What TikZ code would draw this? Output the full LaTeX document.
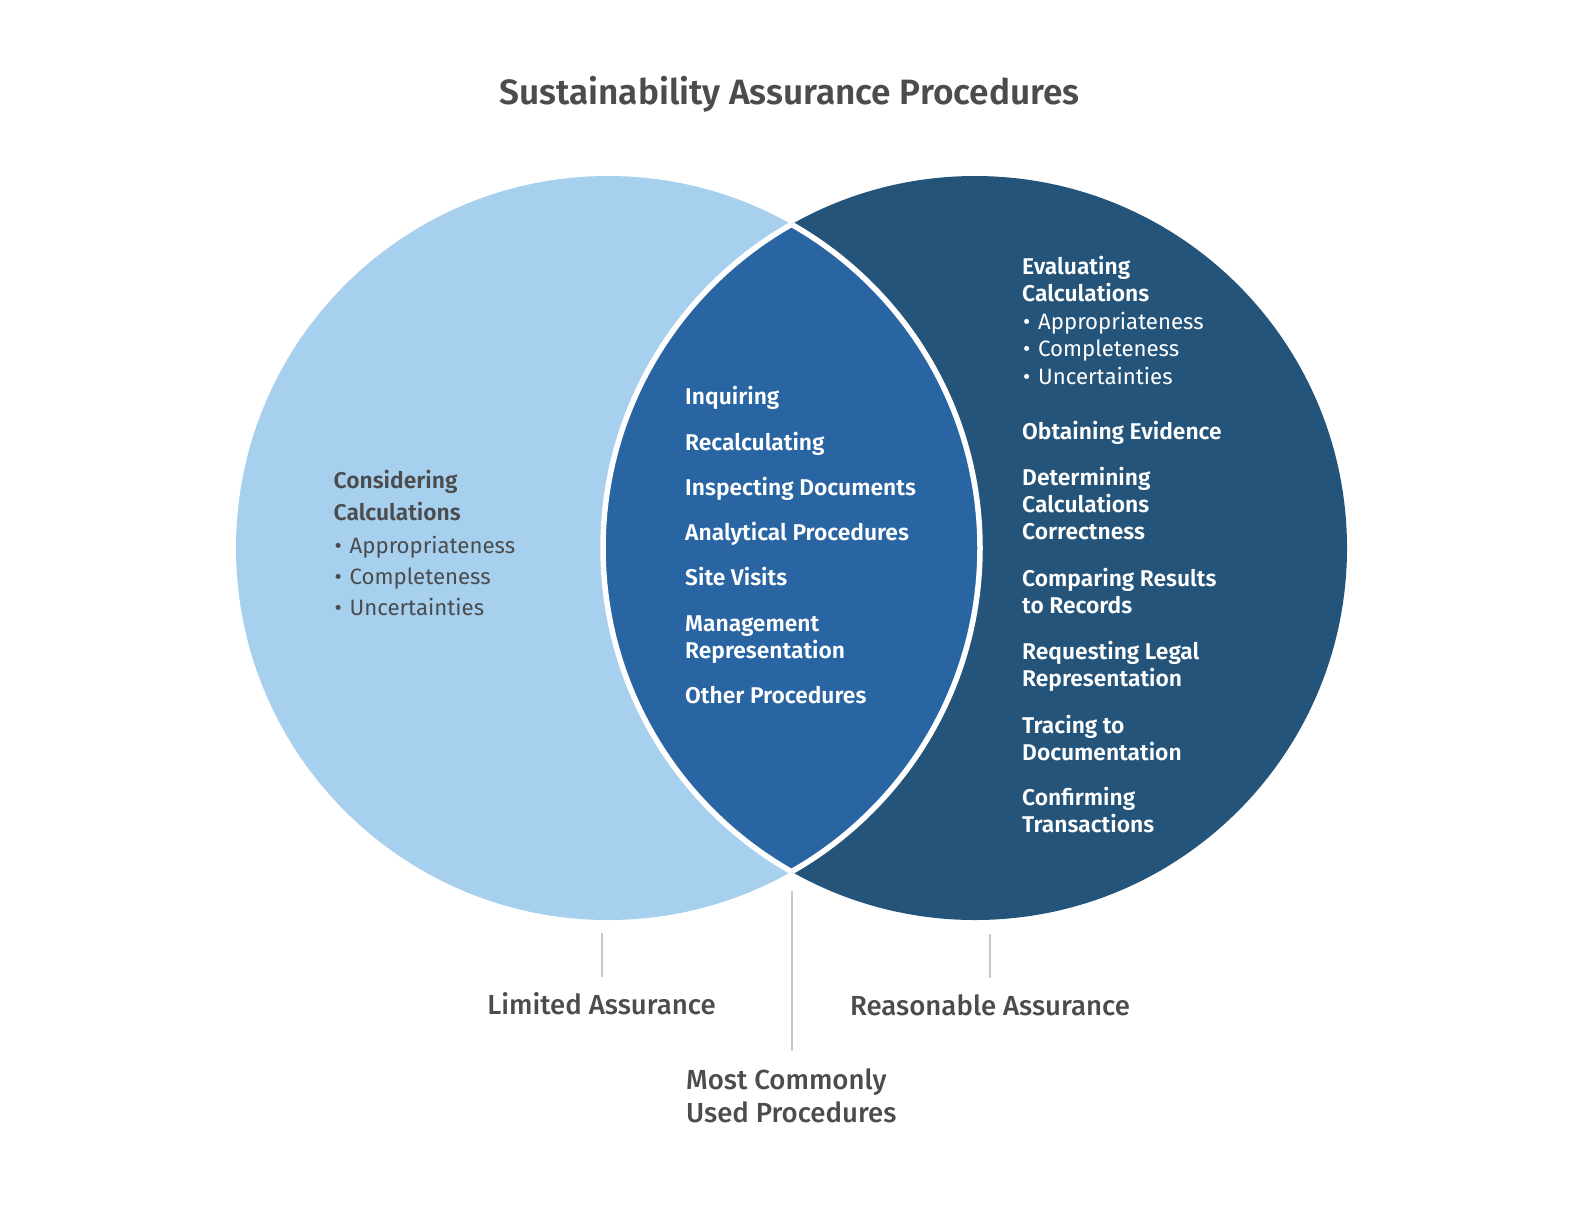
\documentclass[tikz,border=0pt]{standalone}
\usepackage{fontspec}
\setmainfont{Fira Sans}[BoldFont={Fira Sans SemiBold}]
\newfontfamily\medfont{Fira Sans Medium}
\definecolor{limfill}{HTML}{A7CFEE}
\definecolor{reafill}{HTML}{24547A}
\definecolor{lensfill}{HTML}{2A65A3}
\definecolor{txtgray}{HTML}{4A4C4E}
\definecolor{guidegray}{HTML}{C8C8C8}
\newcommand\stackl[1]{\vtop{\halign{##\hfil\cr#1\crcr}}}
\newcommand\bul{•\hspace{0.35em}}
\begin{document}
\begin{tikzpicture}[x=1pt,y=-1pt,
  titletxt/.style={font=\bfseries\fontsize{35.2}{38}\selectfont, text=txtgray, inner sep=0pt, anchor=base},
  lbltxt/.style={font=\medfont\fontsize{27.6}{33}\selectfont, text=txtgray, inner sep=0pt},
  itemw/.style={font=\bfseries\fontsize{22.8}{27.3}\selectfont, text=white, inner sep=0pt, anchor=base west},
  subw/.style={font=\fontsize{22.2}{27.5}\selectfont, text=white, inner sep=0pt, anchor=base west},
  itemg/.style={font=\bfseries\fontsize{22.8}{32}\selectfont, text=txtgray, inner sep=0pt, anchor=base west},
  subg/.style={font=\fontsize{22.2}{31}\selectfont, text=txtgray, inner sep=0pt, anchor=base west},
  guide/.style={draw=guidegray, line width=2pt},
  sep/.style={draw=white, line width=5.5pt}]
\useasboundingbox (0,0) rectangle (1584,1224);
\coordinate (cl) at (608,548);
\coordinate (cr) at (975,548);
% circles
\fill[limfill] (cl) circle[radius=372pt];
\fill[reafill] (cr) circle[radius=372pt];
\begin{scope}
  \clip (cl) circle[radius=372pt];
  \fill[lensfill] (cr) circle[radius=372pt];
  \draw[sep] (cr) circle[radius=372pt];
\end{scope}
\begin{scope}
  \clip (cr) circle[radius=372pt];
  \draw[sep] (cl) circle[radius=372pt];
\end{scope}
% title
\node[titletxt] (title) at (789.5,104) {Sustainability Assurance Procedures};
% left
\node[itemg] (consider) at (333.5,488) {\stackl{Considering\cr Calculations}};
\node[subg] (consub) at (334.5,553) {\stackl{\bul Appropriateness\cr \bul Completeness\cr \bul Uncertainties}};
% middle
\node[itemw] (m1) at (685,404) {Inquiring};
\node[itemw] (m2) at (685,450) {Recalculating};
\node[itemw] (m3) at (685,495) {Inspecting Documents};
\node[itemw] (m4) at (685,540) {Analytical Procedures};
\node[itemw] (m5) at (685,585) {Site Visits};
\node[itemw] (m6) at (685,631) {\stackl{Management\cr Representation}};
\node[itemw] (m7) at (685,703) {Other Procedures};
% right
\node[itemw] (r1) at (1022,274) {\stackl{Evaluating\cr Calculations}};
\node[subw] (r1sub) at (1023,329) {\stackl{\bul Appropriateness\cr \bul Completeness\cr \bul Uncertainties}};
\node[itemw] (r2) at (1022,439) {Obtaining Evidence};
\node[itemw] (r3) at (1022,485) {\stackl{Determining\cr Calculations\cr Correctness}};
\node[itemw] (r4) at (1022,586) {\stackl{Comparing Results\cr to Records}};
\node[itemw] (r5) at (1022,659) {\stackl{Requesting Legal\cr Representation}};
\node[itemw] (r6) at (1022,733) {\stackl{Tracing to\cr Documentation}};
\node[itemw] (r7) at (1022,805) {\stackl{Confirming\cr Transactions}};
% bottom labels
\node[lbltxt, anchor=base] (limited) at (601.5,1014) {Limited Assurance};
\node[lbltxt, anchor=base] (reason) at (990,1015) {Reasonable Assurance};
\node[lbltxt, anchor=base west] (common) at (686,1089) {\stackl{Most Commonly\cr Used Procedures}};
% guide lines
\coordinate (g1a) at (602,933); \coordinate (g1b) at (602,977);
\coordinate (g2a) at (792,891); \coordinate (g2b) at (792,1051);
\coordinate (g3a) at (990,934); \coordinate (g3b) at (990,978);
\draw[guide] (g1a) -- (g1b);
\draw[guide] (g2a) -- (g2b);
\draw[guide] (g3a) -- (g3b);
\end{tikzpicture}
\end{document}
